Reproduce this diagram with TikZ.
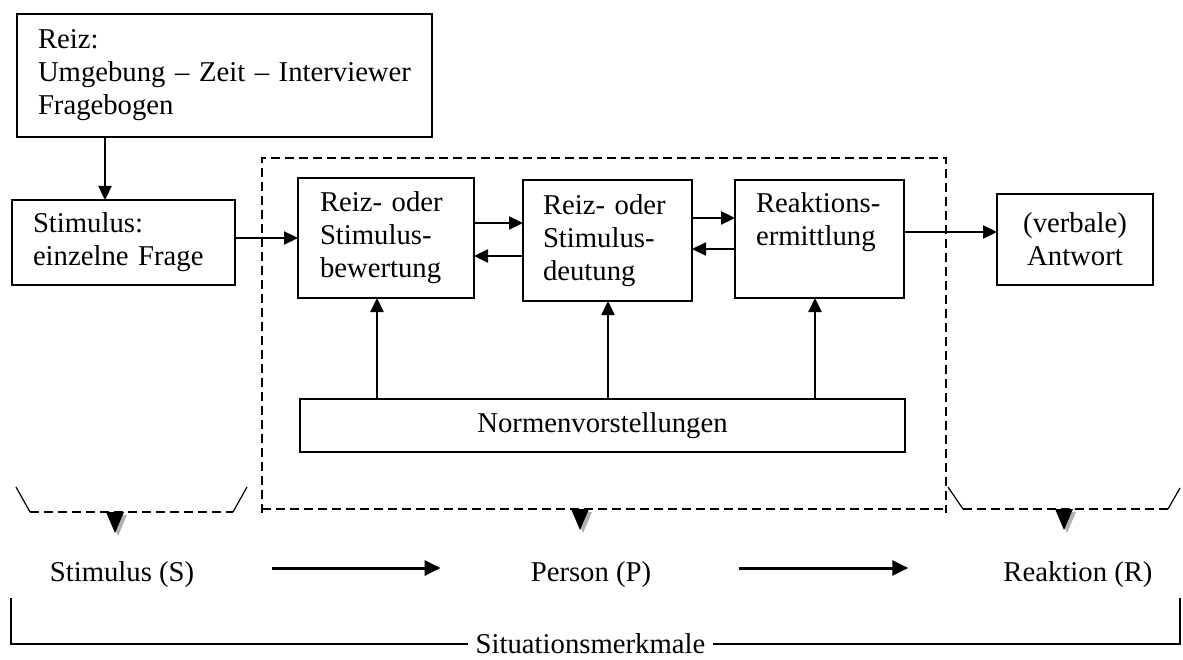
\documentclass[tikz,border=0pt]{standalone}
\usepackage{fontspec}
\setmainfont{Liberation Serif}
\usetikzlibrary{arrows.meta}
\begin{document}
\begin{tikzpicture}[x=1pt,y=-1pt,
  txt/.style={font=\fontsize{28.7}{33}\selectfont},
  box/.style={txt, draw, line width=1.8pt, inner ysep=0pt, outer sep=0pt},
  lbox/.style={box, align=left},
  cbox/.style={box, align=center},
  arr/.style={line width=2.3pt, -{Triangle[length=14pt,width=13pt]}},
  barr/.style={line width=3pt, -{Triangle[length=16pt,width=15pt]}},
  dashline/.style={line width=1.7pt, dash pattern=on 9pt off 5pt},
  slash/.style={line width=1.2pt},
  rule/.style={line width=1.8pt},
  pshadow/.style={fill=black!30},
]
\useasboundingbox (0,0) rectangle (1183,660);

% upper chain of boxes
\node[lbox, minimum width=415pt, minimum height=123pt, inner xsep=21pt, text width=373pt] (reiz) at (224.5,75.5)
  {Reiz:\\\mbox{Umgebung – Zeit – Interviewer}\\Fragebogen};
\node[lbox, minimum width=223pt, minimum height=85pt, inner xsep=21pt, text width=181pt] (stim) at (123.5,242.5)
  {Stimulus:\\einzelne Frage};
\node[lbox, minimum width=176pt, minimum height=120pt, inner xsep=22pt, text width=132pt] (b1) at (386,238)
  {Reiz- oder\\Stimulus-\\bewertung};
\node[lbox, minimum width=169pt, minimum height=121pt, inner xsep=20pt, text width=129pt] (b2) at (607.5,240.5)
  {Reiz- oder\\Stimulus-\\deutung};
\node[lbox, minimum width=169pt, minimum height=118pt, inner xsep=21pt, text width=127pt] (b3) at (819.5,239)
  {Reaktions-\\ermittlung\\\phantom{g}};
\node[cbox, minimum width=156pt, minimum height=91pt, inner xsep=5pt] (ant) at (1075,239.5)
  {(verbale)\\Antwort};
\node[cbox, minimum width=605pt, minimum height=53pt] (norm) at (602.5,425.5)
  {Normenvorstellungen};

% person frame
\draw[dashline] (262,513) -- (262,158) -- (946,158) -- (946,513);
\draw[dashline] (262,509) -- (946,509);

% connectors
\draw[arr] ([xshift=-119.5pt]reiz.south) -- ([xshift=-119.5pt]reiz.south |- stim.north);
\draw[arr] (stim.east |- b1.west) -- (b1.west);
\draw[arr] ([yshift=15pt]b1.east) -- ([yshift=15pt]b1.east -| b2.west);
\draw[arr] ([yshift=-18pt]b1.east -| b2.west) -- ([yshift=-18pt]b1.east);
\draw[arr] ([yshift=22.5pt]b2.east) -- ([yshift=22.5pt]b2.east -| b3.west);
\draw[arr] ([yshift=-8.5pt]b2.east -| b3.west) -- ([yshift=-8.5pt]b2.east);
\draw[arr] ([yshift=7pt]b3.east) -- ([yshift=7pt]b3.east -| ant.west);
\draw[arr] ([xshift=-9pt]b1.south |- norm.north) -- ([xshift=-9pt]b1.south);
\draw[arr] ([xshift=0.5pt]b2.south |- norm.north) -- ([xshift=0.5pt]b2.south);
\draw[arr] ([xshift=-4.5pt]b3.south |- norm.north) -- ([xshift=-4.5pt]b3.south);

% side brackets
\draw[dashline] (30,512) -- (233,512);
\draw[slash] (16,487) -- (30,512);
\draw[slash] (233,512) -- (247,487);
\draw[dashline] (963,509) -- (1168,509);
\draw[slash] (948,487) -- (963,509);
\draw[slash] (1168,509) -- (1180,488);

% pointers
\foreach \px/\py in {115/512, 580/509, 1064/509}{
  \fill[pshadow] (\px-6,\py+3) -- (\px+12,\py+3) -- (\px+3,\py+24) -- cycle;
  \fill[black] (\px-9,\py) -- (\px+9,\py) -- (\px,\py+21) -- cycle;
}

% S - P - R row
\node[txt, anchor=base, inner sep=0pt] (sl) at (122,581) {Stimulus (S)};
\node[txt, anchor=base, inner sep=0pt] (pl) at (591,581) {Person (P)};
\node[txt, anchor=base, inner sep=0pt] (rl) at (1078,581) {Reaktion (R)};
\draw[barr] ([xshift=78pt,yshift=13pt]sl.base east) -- ([xshift=-90pt,yshift=13pt]pl.base west);
\draw[barr] ([xshift=88pt,yshift=13pt]pl.base east) -- ([xshift=-95pt,yshift=13pt]rl.base west);

% situation bracket
\node[txt, inner xsep=8pt, inner ysep=0pt] (sit) at (590.5,644) {Situationsmerkmale};
\coordinate (lt) at (11,598);
\coordinate (rt) at (1180,598);
\draw[rule] (sit.west) -- (sit.west -| lt) -- (lt);
\draw[rule] (sit.east) -- (sit.east -| rt) -- (rt);
\end{tikzpicture}
\end{document}
